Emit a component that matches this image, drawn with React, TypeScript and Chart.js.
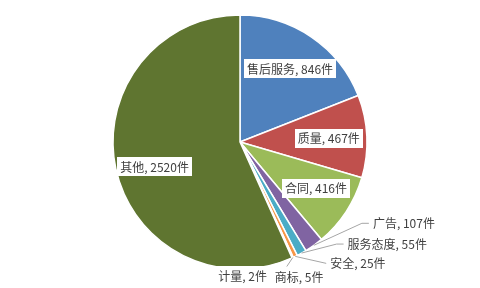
import React, { useEffect, useRef } from "react";
import { Chart, registerables } from "chart.js";

Chart.register(...registerables);

const categories = ["售后服务", "质量", "合同", "广告", "服务态度", "安全", "商标", "计量", "其他"];
const values = [846, 467, 416, 107, 55, 25, 5, 2, 2520];
const unit = "件";
const colors = ["#4F81BD", "#C0504D", "#9BBB59", "#8064A2", "#4BACC6", "#F79646", "#2C4D75", "#772C2A", "#5F7530"];
// label placement: inside (at 0.7R on mid angle) or outside with offset from slice edge
const labelMode = ["inside", "inside", "inside", "outside", "outside", "outside", "outside", "outside", "inside"];
const labelAngleShiftDeg = [0, 0, -2, 0, 0, 0, 0, 0, -4];
const labelOffsetX = [0, 0, 0, 59, 46, 35, -18, -74, 0];
const labelOffsetY = [0, 0, 0, -22, -9, 7, 19, 18, 0];
const leaderStyle = ["none", "none", "none", "elbow", "elbow", "straight", "top", "none", "none"];

const FONT = '12px "Noto Sans CJK SC", "Noto Sans", sans-serif';

const labelPlugin = {
  id: "pieLabels",
  afterDatasetsDraw(chart: any) {
    const ctx = chart.ctx as CanvasRenderingContext2D;
    const meta = chart.getDatasetMeta(0);
    ctx.save();
    ctx.font = FONT;
    ctx.textBaseline = "middle";
    meta.data.forEach((arc: any, i: number) => {
      const { x, y, startAngle, endAngle, outerRadius } = arc.getProps(
        ["x", "y", "startAngle", "endAngle", "outerRadius"],
        true
      );
      const mid = (startAngle + endAngle) / 2;
      const text = `${categories[i]}, ${values[i]}${unit}`;
      const w = ctx.measureText(text).width;
      const padX = 3;
      const h = 19;
      let left: number;
      let cy: number;
      const ex = x + Math.cos(mid) * outerRadius;
      const ey = y + Math.sin(mid) * outerRadius;
      if (labelMode[i] === "inside") {
        const r = outerRadius * 0.7;
        const a = mid + (labelAngleShiftDeg[i] * Math.PI) / 180;
        const cx = x + Math.cos(a) * r;
        cy = y + Math.sin(a) * r;
        left = cx - w / 2;
      } else {
        left = ex + labelOffsetX[i];
        cy = ey + labelOffsetY[i];
        ctx.strokeStyle = "#A6A6A6";
        ctx.lineWidth = 1;
        const st = leaderStyle[i];
        if (st !== "none") {
          ctx.beginPath();
          ctx.moveTo(ex, ey);
          if (st === "elbow") {
            ctx.lineTo(left - 11, cy);
            ctx.lineTo(left - 4, cy);
          } else if (st === "straight") {
            ctx.lineTo(left - 4, cy);
          } else if (st === "top") {
            ctx.lineTo(left + 12, cy - 10);
          }
          ctx.stroke();
        }
      }
      ctx.fillStyle = "#FFFFFF";
      ctx.fillRect(Math.round(left - padX), Math.round(cy - h / 2), Math.round(w + padX * 2), h);
      ctx.fillStyle = "#404040";
      ctx.textAlign = "left";
      ctx.fillText(text, left, cy + 0.5);
    });
    ctx.restore();
  },
};

export default function App() {
  const ref = useRef<HTMLCanvasElement | null>(null);
  useEffect(() => {
    if (!ref.current) return;
    const chart = new Chart(ref.current, {
      type: "pie",
      data: {
        labels: categories,
        datasets: [
          {
            data: values,
            backgroundColor: colors,
            borderColor: "#FFFFFF",
            borderWidth: 1.5,
          },
        ],
      },
      options: {
        responsive: false,
        animation: false,
        radius: 127,
        layout: { padding: { top: 15, bottom: 19, left: 0, right: 0 } },
        plugins: {
          legend: { display: false },
          tooltip: { enabled: false },
        },
      } as any,
      plugins: [labelPlugin],
    });
    return () => chart.destroy();
  }, []);
  return (
    <div style={{ position: "absolute", left: 0, top: 0, width: 480, height: 288, background: "#fff" }}>
      <canvas ref={ref} width={480} height={288} />
    </div>
  );
}
